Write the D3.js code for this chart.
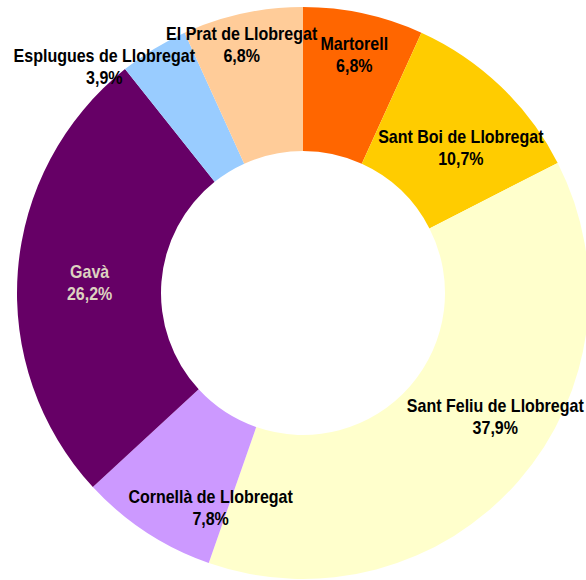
<!DOCTYPE html>
<html>
<head>
<meta charset="utf-8">
<script src="https://cdn.jsdelivr.net/npm/d3@7"></script>
<style>
  body { margin: 0; background: #fff; }
  text { font-family: "Liberation Sans Narrow", "Arial Narrow", "Liberation Sans", Arial, sans-serif; font-weight: bold; font-size: 18px; }
</style>
</head>
<body>
<svg width="586" height="580"></svg>
<script>
var names = ["Martorell", "Sant Boi de Llobregat", "Sant Feliu de Llobregat", "Cornellà de Llobregat",
             "Gavà", "Esplugues de Llobregat", "El Prat de Llobregat"];
var values = [6.8, 10.7, 37.9, 7.8, 26.2, 3.9, 6.8];
var colors = ["#FF6600", "#FFCC00", "#FFFFCC", "#CC99FF", "#660066", "#99CCFF", "#FFCC99"];
var textColors = ["#000", "#000", "#000", "#000", "#DDD2C0", "#000", "#000"];
// nudges from the arc centroid, like the hand-placed labels of the original
var nudges = [[6, -30], [10, 9], [31, -18], [25, 35], [0, 5], [-87, -44], [-16, -40]];

var svg = d3.select("svg"),
    cx = 303, cy = 293,
    outer = 286, inner = 142,
    g = svg.append("g").attr("transform", "translate(" + cx + "," + cy + ")");

var data = names.map(function(n, i) { return {name: n, value: values[i], i: i}; });

var pie = d3.pie()
    .sort(null)
    .value(function(d) { return d.value; });

var arc = d3.arc()
    .innerRadius(inner)
    .outerRadius(outer);

var arcs = pie(data);

g.selectAll("path")
  .data(arcs)
  .enter().append("path")
    .attr("fill", function(d) { return colors[d.data.i]; })
    .attr("d", arc);

var fmt = function(v) { return v.toFixed(1).replace(".", ",") + "%"; };

var labels = g.selectAll("g.lbl")
  .data(arcs)
  .enter().append("g")
    .attr("class", "lbl")
    .attr("transform", function(d) {
      var c = arc.centroid(d), n = nudges[d.data.i];
      return "translate(" + (c[0] + n[0]) + "," + (c[1] + n[1]) + ") scale(0.89,1)";
    })
    .attr("fill", function(d) { return textColors[d.data.i]; })
    .attr("text-anchor", "middle");

labels.append("text")
    .attr("y", -4)
    .text(function(d) { return d.data.name; });

labels.append("text")
    .attr("y", 18)
    .text(function(d) { return fmt(d.data.value); });
</script>
</body>
</html>
